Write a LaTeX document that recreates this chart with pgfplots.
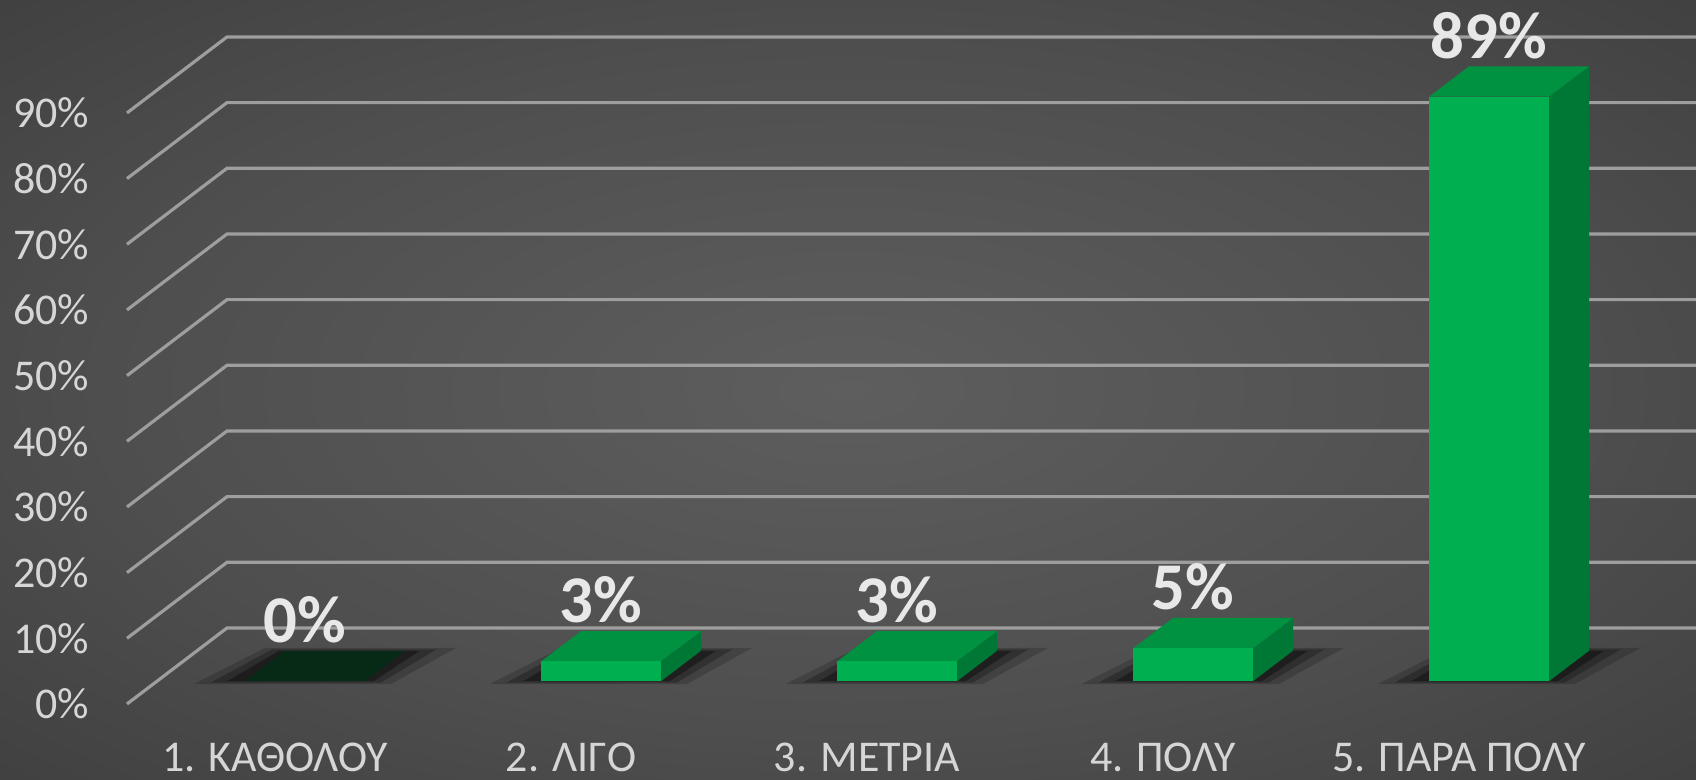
\documentclass[border=0pt]{standalone}
\usepackage{fontspec}
\setmainfont{Carlito}
\usepackage{pgfplots}
\usepackage{pgfplotstable}
\pgfplotsset{compat=1.18}
\definecolor{bgin}{RGB}{94,94,94}
\definecolor{bgmid}{RGB}{78,78,78}
\definecolor{bgedge}{RGB}{50,50,50}
\definecolor{bgout}{RGB}{36,36,36}
\definecolor{gridc}{RGB}{158,158,158}
\definecolor{tickc}{RGB}{214,214,214}
\definecolor{labc}{RGB}{232,232,232}
\definecolor{bfront}{RGB}{0,176,80}
\definecolor{btop}{RGB}{0,145,65}
\definecolor{bside}{RGB}{0,120,53}
\definecolor{bzero}{RGB}{6,42,22}
\pgfdeclareradialshading{bgshade}{\pgfpoint{0bp}{0bp}}{color(0bp)=(bgin); color(22bp)=(bgmid); color(50bp)=(bgedge); color(71bp)=(bgout)}

\pgfplotstableread{
k v
1 0
2 3
3 3
4 5
5 89
}\datatable

\newcommand\DX{0.3378}
\newcommand\DY{11.57}

\begin{document}
\begin{tikzpicture}
\useasboundingbox (0,0) rectangle (16.96,7.80);
\shade[shading=bgshade] (0,0) rectangle (16.96,7.80);
\begin{axis}[
  at={(1.27cm,0.76cm)}, anchor=south west,
  x=2.96cm, y=0.06567cm,
  xmin=0.5, xmax=5.5, ymin=0, ymax=90,
  clip=false,
  axis line style={draw=none},
  major tick length=0pt,
  ytick={0,10,...,90},
  yticklabel={\pgfmathprintnumber{\tick}\%},
  /pgf/number format/assume math mode=true,
  yticklabel style={font=\fontsize{12.5}{14}\selectfont, text=tickc, anchor=east, inner sep=0pt, xshift=-0.37cm},
  xtick={1,...,5},
  xticklabels={1. ΚΑΘΟΛΟΥ, 2. ΛΙΓΟ, 3. ΜΕΤΡΙΑ, 4. ΠΟΛΥ, 5. ΠΑΡΑ ΠΟΛΥ},
  xticklabel style={font=\fontsize{12.5}{14}\selectfont, text=tickc, anchor=north, inner sep=0pt, yshift=-0.38cm},
]
% back wall grid and left wall diagonals
\pgfplotsinvokeforeach{0,10,...,90}{
  \draw[gridc, line width=0.9pt] (axis cs:0.5,#1) -- (axis cs:0.5+\DX,#1+\DY) -- (axis cs:6.0,#1+\DY);
}
% shadows on the floor
\pgfplotsforeachungrouped \i in {0,...,4}{%
  \pgfplotstablegetelem{\i}{k}\of\datatable \let\kk\pgfplotsretval
  \pgfmathsetmacro\ya{0.26*\DY}\pgfmathsetmacro\yc{0.74*\DY}
  \pgfmathsetmacro\sa{\kk+0.26*\DX-0.2027-0.16}\pgfmathsetmacro\sb{\kk+0.26*\DX+0.2027+0.10}
  \pgfmathsetmacro\sc{\kk+0.74*\DX+0.2027+0.16}\pgfmathsetmacro\sd{\kk+0.74*\DX-0.2027-0.08}
  \edef\tmp{\noexpand\fill[black, opacity=0.18] (axis cs:\sa,\ya) -- (axis cs:\sb,\ya) -- (axis cs:\sc,\yc) -- (axis cs:\sd,\yc) -- cycle;}\tmp
  \pgfmathsetmacro\ya{0.28*\DY}\pgfmathsetmacro\yc{0.72*\DY}
  \pgfmathsetmacro\sa{\kk+0.28*\DX-0.2027-0.11}\pgfmathsetmacro\sb{\kk+0.28*\DX+0.2027+0.06}
  \pgfmathsetmacro\sc{\kk+0.72*\DX+0.2027+0.10}\pgfmathsetmacro\sd{\kk+0.72*\DX-0.2027-0.05}
  \edef\tmp{\noexpand\fill[black, opacity=0.25] (axis cs:\sa,\ya) -- (axis cs:\sb,\ya) -- (axis cs:\sc,\yc) -- (axis cs:\sd,\yc) -- cycle;}\tmp
  \pgfmathsetmacro\ya{0.3*\DY}\pgfmathsetmacro\yc{0.7*\DY}
  \pgfmathsetmacro\sa{\kk+0.3*\DX-0.2027-0.06}\pgfmathsetmacro\sb{\kk+0.3*\DX+0.2027+0.03}
  \pgfmathsetmacro\sc{\kk+0.7*\DX+0.2027+0.05}\pgfmathsetmacro\sd{\kk+0.7*\DX-0.2027-0.02}
  \edef\tmp{\noexpand\fill[black, opacity=0.35] (axis cs:\sa,\ya) -- (axis cs:\sb,\ya) -- (axis cs:\sc,\yc) -- (axis cs:\sd,\yc) -- cycle;}\tmp
}
% 3D bars
\pgfplotsforeachungrouped \i in {0,...,4}{%
  \pgfplotstablegetelem{\i}{k}\of\datatable \let\kk\pgfplotsretval
  \pgfplotstablegetelem{\i}{v}\of\datatable \let\vv\pgfplotsretval
  \pgfmathsetmacro\xl{\kk+0.3*\DX-0.2027}
  \pgfmathsetmacro\xr{\kk+0.3*\DX+0.2027}
  \pgfmathsetmacro\xlb{\xl+0.4*\DX}
  \pgfmathsetmacro\xrb{\xr+0.4*\DX}
  \pgfmathsetmacro\yb{0.3*\DY}
  \pgfmathsetmacro\ybb{0.7*\DY}
  \pgfmathsetmacro\yt{\yb+\vv}
  \pgfmathsetmacro\ytb{\ybb+\vv}
  \ifdim\vv pt>0pt
    \edef\tmp{\noexpand\addplot[fill=bside, draw=none, forget plot] coordinates {(\xr,\yb) (\xrb,\ybb) (\xrb,\ytb) (\xr,\yt)};}\tmp
    \edef\tmp{\noexpand\addplot[fill=btop, draw=none, forget plot] coordinates {(\xl,\yt) (\xr,\yt) (\xrb,\ytb) (\xlb,\ytb)};}\tmp
    \edef\tmp{\noexpand\addplot[fill=bfront, draw=none, forget plot] coordinates {(\xl,\yb) (\xr,\yb) (\xr,\yt) (\xl,\yt)};}\tmp
  \else
    \edef\tmp{\noexpand\addplot[fill=bzero, draw=none, forget plot] coordinates {(\xl,\yt) (\xr,\yt) (\xrb,\ytb) (\xlb,\ytb)};}\tmp
  \fi
}
% data labels
\addplot[only marks, mark=*, mark size=0pt, mark options={draw=none, fill=none},
  point meta=explicit symbolic,
  nodes near coords={\pgfplotspointmeta\%},
  nodes near coords style={font=\bfseries\fontsize{19}{22}\selectfont, text=labc, anchor=south, inner sep=0pt, yshift=0.07cm}]
  table[x expr=\thisrow{k}+0.3*\DX, y expr=\thisrow{v}+0.7*\DY, meta=v] {\datatable};
\end{axis}
\end{tikzpicture}
\end{document}
